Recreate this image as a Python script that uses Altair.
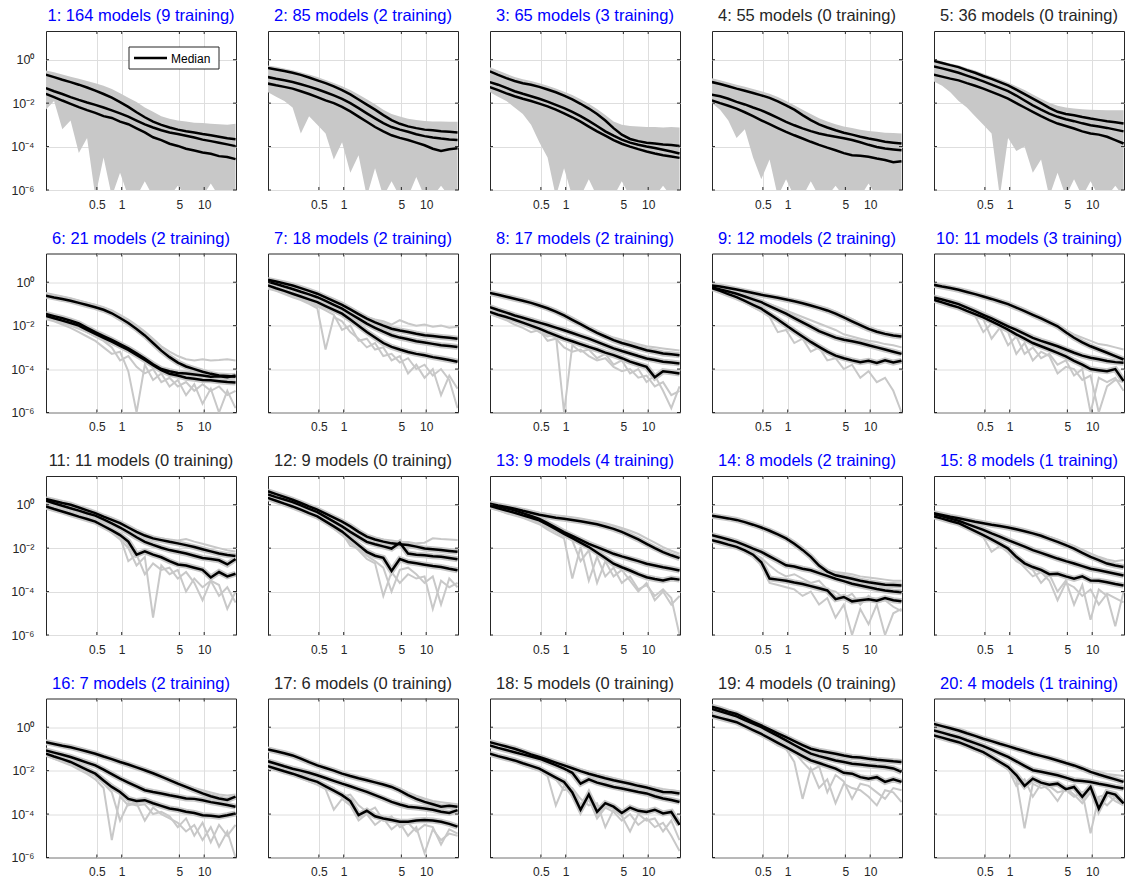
import altair as alt
import pandas as pd

FONT = "Liberation Sans"
AXC = "#262626"
GRAY = "#c8c8c8"
GRID = "#dedede"
W, H = 190, 159

# sample positions (log10 of x)
X_LOG = [-0.92, -0.82, -0.72, -0.62, -0.52, -0.42, -0.32, -0.22, -0.12, -0.02,
         0.08, 0.18, 0.28, 0.38, 0.48, 0.58, 0.68, 0.78, 0.88, 0.98, 1.08, 1.18, 1.28, 1.38]

TITLES = [
    "1: 164 models (9 training)", "2: 85 models (2 training)", "3: 65 models (3 training)",
    "4: 55 models (0 training)", "5: 36 models (0 training)", "6: 21 models (2 training)",
    "7: 18 models (2 training)", "8: 17 models (2 training)", "9: 12 models (2 training)",
    "10: 11 models (3 training)", "11: 11 models (0 training)", "12: 9 models (0 training)",
    "13: 9 models (4 training)", "14: 8 models (2 training)", "15: 8 models (1 training)",
    "16: 7 models (2 training)", "17: 6 models (0 training)", "18: 5 models (0 training)",
    "19: 4 models (0 training)", "20: 4 models (1 training)",
]
TITLE_BLUE = [1, 1, 1, 0, 0, 1, 1, 1, 1, 1, 0, 0, 1, 1, 1, 1, 0, 0, 0, 1]

X_TICKS = [0.5, 1, 5, 10]
Y_TICKS = [1e-6, 1e-4, 1e-2, 1]

# black percentile lines (log10 values), per panel: upper, median, lower
BLACK = {
 1: [[-0.69,-0.8,-0.92,-1.03,-1.15,-1.28,-1.42,-1.58,-1.75,-1.95,-2.17,-2.42,-2.65,-2.85,-3.0,-3.12,-3.22,-3.29,-3.35,-3.42,-3.48,-3.55,-3.62,-3.66],
     [-1.31,-1.45,-1.58,-1.72,-1.85,-1.97,-2.08,-2.2,-2.33,-2.47,-2.62,-2.8,-2.98,-3.12,-3.25,-3.35,-3.42,-3.5,-3.58,-3.68,-3.75,-3.82,-3.9,-3.98],
     [-1.57,-1.72,-1.88,-2.03,-2.18,-2.32,-2.45,-2.6,-2.68,-2.85,-2.97,-3.16,-3.35,-3.57,-3.7,-3.87,-3.97,-4.1,-4.18,-4.27,-4.33,-4.44,-4.48,-4.58]],
 2: [[-0.38,-0.45,-0.52,-0.6,-0.7,-0.82,-0.95,-1.08,-1.23,-1.4,-1.6,-1.83,-2.07,-2.3,-2.55,-2.78,-2.95,-3.07,-3.15,-3.22,-3.25,-3.29,-3.32,-3.35],
     [-0.8,-0.88,-0.95,-1.03,-1.13,-1.24,-1.36,-1.5,-1.64,-1.8,-2.0,-2.23,-2.47,-2.7,-2.92,-3.1,-3.22,-3.32,-3.43,-3.52,-3.58,-3.63,-3.67,-3.7],
     [-1.1,-1.18,-1.25,-1.33,-1.45,-1.58,-1.72,-1.87,-2.0,-2.17,-2.38,-2.62,-2.86,-3.1,-3.3,-3.48,-3.6,-3.7,-3.82,-3.94,-4.1,-4.2,-4.12,-4.08]],
 3: [[-0.54,-0.7,-0.85,-0.98,-1.08,-1.15,-1.25,-1.37,-1.5,-1.65,-1.83,-2.03,-2.25,-2.5,-2.8,-3.15,-3.45,-3.65,-3.75,-3.82,-3.86,-3.9,-3.93,-3.97],
     [-1.03,-1.15,-1.3,-1.45,-1.57,-1.68,-1.8,-1.93,-2.08,-2.23,-2.4,-2.6,-2.82,-3.05,-3.3,-3.5,-3.68,-3.82,-3.92,-4.0,-4.07,-4.15,-4.23,-4.32],
     [-1.26,-1.4,-1.55,-1.68,-1.8,-1.9,-2.02,-2.15,-2.3,-2.47,-2.65,-2.85,-3.08,-3.3,-3.5,-3.7,-3.87,-4.0,-4.12,-4.23,-4.32,-4.4,-4.46,-4.52]],
 4: [[-1.03,-1.12,-1.22,-1.33,-1.43,-1.53,-1.64,-1.76,-1.92,-2.1,-2.3,-2.55,-2.78,-2.98,-3.12,-3.25,-3.36,-3.45,-3.55,-3.63,-3.7,-3.78,-3.82,-3.86],
     [-1.61,-1.68,-1.8,-1.94,-2.06,-2.2,-2.33,-2.5,-2.68,-2.86,-3.02,-3.16,-3.29,-3.4,-3.48,-3.55,-3.62,-3.7,-3.8,-3.92,-4.02,-4.09,-4.13,-4.17],
     [-1.87,-2.0,-2.12,-2.25,-2.42,-2.6,-2.79,-2.97,-3.15,-3.32,-3.48,-3.63,-3.78,-3.92,-4.05,-4.17,-4.3,-4.4,-4.42,-4.47,-4.55,-4.62,-4.72,-4.68]],
 5: [[-0.06,-0.15,-0.25,-0.34,-0.48,-0.6,-0.75,-0.88,-1.03,-1.18,-1.38,-1.58,-1.79,-2.0,-2.22,-2.4,-2.5,-2.56,-2.64,-2.71,-2.77,-2.83,-2.88,-2.94],
     [-0.31,-0.4,-0.5,-0.6,-0.73,-0.86,-1.0,-1.15,-1.3,-1.45,-1.65,-1.88,-2.1,-2.3,-2.48,-2.63,-2.74,-2.83,-2.93,-3.02,-3.08,-3.14,-3.22,-3.3],
     [-0.69,-0.78,-0.87,-0.95,-1.08,-1.2,-1.33,-1.48,-1.63,-1.79,-2.0,-2.2,-2.4,-2.6,-2.78,-2.94,-3.05,-3.17,-3.3,-3.4,-3.45,-3.55,-3.7,-3.86]],
 6: [[-0.62,-0.7,-0.77,-0.85,-0.95,-1.05,-1.15,-1.27,-1.43,-1.65,-1.88,-2.15,-2.45,-2.8,-3.15,-3.45,-3.7,-3.88,-4.0,-4.12,-4.22,-4.3,-4.32,-4.35],
     [-1.46,-1.56,-1.66,-1.77,-1.9,-2.1,-2.3,-2.48,-2.66,-2.85,-3.05,-3.28,-3.52,-3.78,-4.0,-4.1,-4.18,-4.2,-4.25,-4.3,-4.35,-4.33,-4.38,-4.3],
     [-1.55,-1.66,-1.77,-1.88,-2.0,-2.2,-2.38,-2.56,-2.74,-2.93,-3.12,-3.35,-3.58,-3.82,-4.05,-4.22,-4.3,-4.4,-4.45,-4.5,-4.52,-4.56,-4.6,-4.62]],
 7: [[0.11,0.03,-0.06,-0.15,-0.27,-0.4,-0.53,-0.7,-0.87,-1.04,-1.25,-1.47,-1.68,-1.85,-2.0,-2.14,-2.22,-2.29,-2.37,-2.44,-2.48,-2.52,-2.56,-2.6],
     [0.03,-0.08,-0.2,-0.31,-0.44,-0.56,-0.69,-0.86,-1.04,-1.22,-1.45,-1.68,-1.91,-2.1,-2.28,-2.44,-2.55,-2.63,-2.72,-2.78,-2.84,-2.9,-2.94,-2.98],
     [-0.15,-0.28,-0.4,-0.53,-0.66,-0.79,-0.92,-1.1,-1.27,-1.45,-1.72,-2.0,-2.29,-2.55,-2.8,-2.98,-3.1,-3.21,-3.3,-3.36,-3.45,-3.51,-3.58,-3.66]],
 8: [[-0.49,-0.58,-0.67,-0.76,-0.85,-0.95,-1.07,-1.2,-1.35,-1.53,-1.73,-1.93,-2.14,-2.33,-2.5,-2.67,-2.8,-2.9,-3.02,-3.13,-3.2,-3.28,-3.32,-3.36],
     [-1.15,-1.28,-1.4,-1.53,-1.64,-1.75,-1.86,-1.97,-2.09,-2.21,-2.34,-2.47,-2.6,-2.75,-2.9,-3.05,-3.17,-3.28,-3.4,-3.51,-3.58,-3.66,-3.7,-3.74],
     [-1.37,-1.5,-1.6,-1.73,-1.86,-2.0,-2.14,-2.3,-2.45,-2.6,-2.72,-2.85,-2.98,-3.1,-3.24,-3.36,-3.5,-3.66,-3.78,-3.9,-4.38,-4.1,-4.15,-4.2]],
 9: [[-0.15,-0.2,-0.27,-0.34,-0.42,-0.5,-0.58,-0.65,-0.72,-0.8,-0.88,-0.97,-1.07,-1.18,-1.3,-1.45,-1.62,-1.8,-1.98,-2.15,-2.28,-2.38,-2.45,-2.5],
     [-0.23,-0.33,-0.43,-0.53,-0.66,-0.79,-0.92,-1.1,-1.27,-1.45,-1.65,-1.85,-2.05,-2.25,-2.4,-2.55,-2.65,-2.72,-2.8,-2.9,-3.0,-3.1,-3.2,-3.3],
     [-0.27,-0.4,-0.55,-0.69,-0.86,-1.04,-1.22,-1.47,-1.72,-1.98,-2.25,-2.5,-2.75,-2.98,-3.2,-3.38,-3.5,-3.6,-3.68,-3.62,-3.72,-3.6,-3.7,-3.62]],
 10: [[-0.12,-0.2,-0.27,-0.35,-0.45,-0.55,-0.66,-0.77,-0.89,-1.01,-1.17,-1.33,-1.5,-1.67,-1.85,-2.03,-2.3,-2.56,-2.77,-2.95,-3.1,-3.25,-3.4,-3.56],
      [-0.7,-0.8,-0.9,-1.01,-1.17,-1.33,-1.5,-1.67,-1.85,-2.03,-2.2,-2.38,-2.56,-2.7,-2.82,-2.95,-3.1,-3.25,-3.38,-3.48,-3.55,-3.63,-3.68,-3.71],
      [-0.81,-0.93,-1.05,-1.16,-1.32,-1.47,-1.62,-1.8,-1.99,-2.18,-2.4,-2.6,-2.8,-2.95,-3.1,-3.25,-3.42,-3.62,-3.8,-4.0,-4.05,-4.1,-4.0,-4.55]],
 11: [[0.26,0.17,0.08,0.0,-0.13,-0.26,-0.39,-0.55,-0.7,-0.85,-1.05,-1.25,-1.42,-1.55,-1.63,-1.71,-1.78,-1.86,-1.95,-2.05,-2.15,-2.25,-2.32,-2.36],
      [0.19,0.07,-0.05,-0.16,-0.27,-0.39,-0.5,-0.68,-0.86,-1.05,-1.27,-1.5,-1.71,-1.85,-1.98,-2.09,-2.17,-2.25,-2.35,-2.45,-2.5,-2.56,-2.75,-2.5],
      [-0.08,-0.2,-0.31,-0.43,-0.55,-0.66,-0.78,-0.98,-1.18,-1.4,-1.7,-2.3,-2.15,-2.3,-2.42,-2.6,-2.75,-2.8,-2.9,-3.0,-3.35,-3.1,-3.3,-3.18]],
 12: [[0.62,0.49,0.36,0.23,0.08,-0.08,-0.23,-0.41,-0.6,-0.78,-1.0,-1.25,-1.47,-1.6,-1.7,-1.78,-1.82,-1.86,-1.93,-2.02,-2.05,-2.09,-2.13,-2.17],
      [0.47,0.35,0.24,0.12,-0.03,-0.19,-0.34,-0.56,-0.78,-1.0,-1.25,-1.48,-1.71,-1.82,-1.92,-2.02,-1.75,-2.25,-2.3,-2.33,-2.37,-2.4,-2.45,-2.51],
      [0.31,0.18,0.05,-0.08,-0.23,-0.39,-0.54,-0.77,-1.0,-1.24,-1.55,-1.86,-2.17,-2.35,-2.45,-3.05,-2.5,-2.64,-2.7,-2.76,-2.82,-2.87,-2.95,-3.02]],
 13: [[0.05,-0.03,-0.1,-0.18,-0.28,-0.37,-0.46,-0.53,-0.6,-0.65,-0.7,-0.76,-0.83,-0.9,-1.0,-1.11,-1.25,-1.42,-1.6,-1.8,-2.0,-2.18,-2.33,-2.46],
      [0.0,-0.08,-0.17,-0.26,-0.39,-0.52,-0.65,-0.85,-1.05,-1.26,-1.44,-1.62,-1.8,-1.95,-2.1,-2.26,-2.38,-2.49,-2.6,-2.72,-2.8,-2.88,-2.95,-3.03],
      [-0.06,-0.17,-0.27,-0.37,-0.49,-0.6,-0.72,-0.92,-1.13,-1.34,-1.54,-1.75,-1.95,-2.2,-2.45,-2.72,-2.88,-3.03,-3.2,-3.34,-3.42,-3.49,-3.4,-3.45]],
 14: [[-0.51,-0.57,-0.63,-0.7,-0.8,-0.92,-1.05,-1.2,-1.37,-1.55,-1.8,-2.08,-2.4,-2.8,-3.08,-3.25,-3.33,-3.41,-3.5,-3.57,-3.63,-3.69,-3.7,-3.72],
      [-1.4,-1.5,-1.6,-1.71,-1.86,-2.02,-2.17,-2.38,-2.58,-2.79,-2.85,-2.95,-3.02,-3.15,-3.28,-3.41,-3.52,-3.64,-3.72,-3.8,-3.88,-3.95,-4.0,-4.03],
      [-1.63,-1.73,-1.84,-1.94,-2.1,-2.3,-2.65,-3.4,-3.45,-3.5,-3.58,-3.65,-3.75,-3.85,-3.95,-4.35,-4.25,-4.45,-4.4,-4.35,-4.42,-4.3,-4.4,-4.45]],
 15: [[-0.39,-0.47,-0.55,-0.62,-0.7,-0.78,-0.85,-0.92,-0.98,-1.05,-1.13,-1.22,-1.32,-1.43,-1.57,-1.71,-1.86,-2.02,-2.22,-2.4,-2.55,-2.71,-2.8,-2.87],
      [-0.43,-0.53,-0.64,-0.74,-0.88,-1.02,-1.16,-1.32,-1.47,-1.63,-1.78,-1.93,-2.09,-2.22,-2.35,-2.48,-2.6,-2.71,-2.83,-2.95,-3.02,-3.1,-3.18,-3.26],
      [-0.54,-0.64,-0.75,-0.85,-1.03,-1.22,-1.4,-1.6,-1.8,-2.02,-2.4,-2.7,-2.87,-3.0,-3.2,-3.18,-3.3,-3.41,-3.3,-3.49,-3.5,-3.57,-3.65,-3.72]],
 16: [[-0.69,-0.77,-0.85,-0.92,-1.02,-1.12,-1.22,-1.35,-1.47,-1.6,-1.72,-1.85,-1.98,-2.12,-2.28,-2.44,-2.6,-2.75,-2.9,-3.05,-3.18,-3.28,-3.35,-3.2],
      [-1.07,-1.17,-1.27,-1.37,-1.5,-1.63,-1.76,-1.95,-2.16,-2.37,-2.55,-2.72,-2.9,-2.98,-3.05,-3.13,-3.2,-3.28,-3.3,-3.36,-3.45,-3.51,-3.58,-3.66],
      [-1.22,-1.35,-1.47,-1.6,-1.78,-1.96,-2.14,-2.45,-2.75,-2.98,-3.3,-3.4,-3.36,-3.5,-3.62,-3.74,-3.8,-3.89,-3.95,-4.05,-4.08,-4.12,-4.05,-3.97]],
 17: [[-1.02,-1.11,-1.2,-1.3,-1.45,-1.61,-1.76,-1.88,-2.0,-2.14,-2.25,-2.35,-2.44,-2.54,-2.64,-2.75,-2.92,-3.13,-3.3,-3.44,-3.55,-3.66,-3.62,-3.66],
      [-1.57,-1.68,-1.8,-1.91,-2.0,-2.1,-2.21,-2.34,-2.47,-2.6,-2.72,-2.85,-2.98,-3.13,-3.28,-3.44,-3.56,-3.66,-3.7,-3.74,-3.8,-3.89,-3.95,-3.82],
      [-1.79,-1.91,-2.03,-2.14,-2.27,-2.4,-2.52,-2.72,-2.92,-3.13,-3.4,-4.05,-3.85,-4.1,-4.2,-4.27,-4.35,-4.35,-4.3,-4.27,-4.3,-4.35,-4.45,-4.58]],
 18: [[-0.69,-0.79,-0.89,-0.99,-1.12,-1.25,-1.37,-1.5,-1.63,-1.76,-1.89,-2.02,-2.14,-2.25,-2.35,-2.44,-2.52,-2.6,-2.7,-2.78,-2.88,-2.98,-3.0,-3.05],
      [-0.84,-0.95,-1.05,-1.15,-1.25,-1.35,-1.45,-1.6,-1.75,-1.91,-2.1,-2.6,-2.4,-2.55,-2.65,-2.75,-2.82,-2.9,-2.98,-3.05,-3.18,-3.28,-3.35,-3.44],
      [-1.22,-1.33,-1.43,-1.53,-1.66,-1.78,-1.91,-2.11,-2.32,-2.52,-3.0,-3.8,-3.1,-3.9,-3.5,-3.66,-3.95,-3.7,-3.85,-3.9,-3.8,-3.97,-3.9,-4.5]],
 19: [[0.95,0.84,0.72,0.61,0.43,0.25,0.08,-0.1,-0.28,-0.46,-0.64,-0.82,-0.99,-1.08,-1.15,-1.22,-1.3,-1.37,-1.4,-1.45,-1.5,-1.53,-1.57,-1.6],
      [0.84,0.73,0.62,0.5,0.33,0.17,0.0,-0.2,-0.4,-0.61,-0.82,-1.02,-1.22,-1.33,-1.43,-1.53,-1.6,-1.68,-1.72,-1.76,-1.8,-1.83,-1.9,-2.06],
      [0.53,0.43,0.33,0.23,0.05,-0.13,-0.31,-0.51,-0.72,-0.92,-1.12,-1.33,-1.53,-1.65,-1.78,-1.91,-2.1,-2.14,-2.3,-2.37,-2.3,-2.52,-2.4,-2.52]],
 20: [[0.15,0.05,-0.05,-0.15,-0.28,-0.4,-0.53,-0.64,-0.76,-0.87,-0.99,-1.1,-1.22,-1.32,-1.42,-1.53,-1.65,-1.76,-1.9,-2.06,-2.18,-2.29,-2.4,-2.52],
      [-0.15,-0.25,-0.36,-0.46,-0.6,-0.73,-0.87,-1.03,-1.2,-1.37,-1.57,-1.78,-1.98,-2.05,-2.13,-2.21,-2.32,-2.44,-2.48,-2.52,-2.6,-2.67,-2.75,-2.82],
      [-0.38,-0.48,-0.59,-0.69,-0.84,-1.0,-1.15,-1.37,-1.6,-1.83,-2.2,-2.7,-2.37,-2.55,-2.65,-2.6,-2.85,-2.75,-3.2,-2.75,-3.75,-3.0,-3.1,-3.51]],
}

# dense gray band (upper edge, lower edge) for the many-model panels
AREA = {
 1: ([-0.5,-0.58,-0.68,-0.78,-0.88,-0.98,-1.08,-1.2,-1.35,-1.55,-1.75,-1.95,-2.2,-2.4,-2.6,-2.72,-2.8,-2.85,-2.9,-2.92,-2.95,-2.97,-3.0,-2.95],
     [-2.3,-1.9,-3.2,-2.8,-4.3,-3.6,-6.3,-4.5,-6.3,-5.2,-6.3,-6.3,-5.6,-6.3,-6.3,-6.3,-5.8,-6.3,-6.3,-6.3,-5.7,-6.3,-6.3,-6.3]),
 2: ([-0.26,-0.32,-0.4,-0.48,-0.58,-0.68,-0.8,-0.93,-1.07,-1.22,-1.4,-1.6,-1.82,-2.05,-2.3,-2.5,-2.62,-2.72,-2.78,-2.82,-2.85,-2.85,-2.86,-2.86],
     [-1.5,-1.7,-1.9,-2.2,-3.4,-2.6,-3.0,-3.4,-4.6,-3.8,-5.2,-4.4,-6.3,-5.0,-6.3,-5.6,-6.3,-6.3,-5.4,-6.3,-6.3,-5.8,-6.3,-6.3]),
 3: ([-0.34,-0.5,-0.65,-0.8,-0.9,-0.98,-1.08,-1.2,-1.32,-1.47,-1.63,-1.82,-2.03,-2.27,-2.55,-2.85,-3.0,-3.05,-3.08,-3.1,-3.1,-3.12,-3.1,-3.12],
     [-1.5,-1.7,-1.9,-2.2,-2.5,-3.0,-3.8,-4.5,-6.3,-5.0,-6.3,-6.3,-5.5,-6.3,-6.3,-6.3,-5.6,-6.3,-6.3,-6.3,-6.3,-5.8,-6.3,-6.3]),
 4: ([-0.85,-0.95,-1.05,-1.15,-1.25,-1.35,-1.45,-1.57,-1.72,-1.9,-2.1,-2.3,-2.5,-2.7,-2.85,-2.97,-3.07,-3.15,-3.22,-3.28,-3.32,-3.36,-3.38,-3.4],
     [-2.0,-2.3,-2.8,-3.6,-3.2,-4.5,-5.5,-4.6,-6.3,-5.5,-6.3,-6.3,-5.6,-6.3,-6.3,-5.8,-6.3,-6.3,-6.3,-5.7,-6.3,-6.3,-6.3,-6.3]),
 5: ([0.0,-0.08,-0.17,-0.26,-0.38,-0.5,-0.63,-0.77,-0.9,-1.05,-1.22,-1.4,-1.6,-1.8,-1.98,-2.12,-2.2,-2.25,-2.28,-2.3,-2.32,-2.33,-2.33,-2.33],
     [-1.0,-1.2,-1.5,-1.9,-2.2,-2.6,-3.0,-3.4,-6.3,-3.6,-4.2,-4.0,-5.2,-4.6,-6.3,-5.2,-6.3,-5.5,-6.3,-5.6,-6.3,-6.3,-5.8,-6.3]),
}

# individual gray model lines for the sparser panels
GRAYL = {
 6: [[-0.5,-0.58,-0.66,-0.74,-0.84,-0.94,-1.04,-1.15,-1.3,-1.5,-1.72,-1.98,-2.27,-2.6,-2.95,-3.2,-3.4,-3.55,-3.6,-3.55,-3.6,-3.58,-3.55,-3.6],
     [-1.6,-1.72,-1.85,-2.0,-2.15,-2.3,-2.5,-2.7,-3.0,-3.6,-3.4,-3.9,-4.2,-4.0,-4.6,-4.4,-4.8,-4.6,-5.0,-4.7,-5.0,-4.8,-5.2,-5.0],
     [-1.7,-1.8,-1.95,-2.1,-2.3,-2.5,-2.7,-3.0,-3.3,-3.2,-4.1,-6.0,-3.8,-4.5,-4.2,-4.8,-4.5,-5.2,-4.7,-5.6,-4.9,-6.0,-5.0,-5.8]],
 7: [[0.15,0.07,-0.02,-0.1,-0.22,-0.35,-0.48,-0.63,-0.8,-0.98,-1.18,-1.38,-1.6,-1.72,-1.8,-1.95,-1.75,-1.9,-2.0,-1.95,-2.05,-2.0,-2.1,-2.05],
     [-0.3,-0.4,-0.55,-0.7,-0.82,-1.0,-1.2,-3.1,-1.6,-1.8,-2.3,-2.6,-3.0,-2.8,-3.4,-3.3,-3.7,-3.5,-4.0,-3.8,-4.3,-4.0,-4.5,-5.8],
     [-0.25,-0.35,-0.5,-0.62,-0.75,-0.9,-1.1,-1.3,-1.5,-2.2,-2.0,-2.7,-2.6,-3.1,-3.0,-3.6,-3.4,-4.2,-3.8,-4.4,-4.0,-5.2,-4.3,-4.9]],
 8: [[-0.45,-0.54,-0.63,-0.72,-0.81,-0.9,-1.02,-1.15,-1.3,-1.47,-1.66,-1.86,-2.06,-2.25,-2.4,-2.55,-2.65,-2.75,-2.85,-2.95,-3.0,-3.05,-3.1,-3.15],
     [-1.3,-1.45,-1.6,-1.75,-1.9,-2.05,-2.3,-2.5,-2.4,-6.0,-2.9,-3.2,-3.1,-3.5,-3.3,-3.8,-3.6,-4.2,-4.0,-4.6,-4.3,-5.0,-5.8,-4.8],
     [-1.45,-1.6,-1.75,-1.95,-2.1,-2.3,-2.2,-2.7,-2.6,-3.0,-3.2,-3.1,-3.4,-3.6,-3.5,-3.9,-4.1,-4.0,-4.4,-4.3,-4.8,-4.6,-5.2,-5.0]],
 9: [[-0.1,-0.15,-0.22,-0.29,-0.37,-0.45,-0.53,-0.6,-0.67,-0.74,-0.82,-0.9,-1.0,-1.1,-1.22,-1.36,-1.52,-1.7,-1.88,-2.05,-2.2,-2.3,-2.38,-2.42],
     [-0.3,-0.45,-0.6,-0.75,-0.95,-1.15,-1.35,-1.6,-2.3,-2.2,-2.8,-2.6,-3.2,-3.0,-3.6,-3.5,-4.0,-3.8,-4.4,-4.1,-4.6,-4.4,-5.0,-6.0],
     [-0.2,-0.3,-0.4,-0.5,-0.62,-0.75,-0.88,-1.0,-1.15,-1.3,-1.45,-1.6,-1.75,-1.9,-2.05,-2.2,-2.4,-2.5,-2.6,-2.7,-2.75,-2.85,-2.9,-3.0]],
 10: [[-0.08,-0.16,-0.23,-0.31,-0.41,-0.51,-0.62,-0.73,-0.85,-0.97,-1.12,-1.28,-1.45,-1.62,-1.8,-1.98,-2.2,-2.4,-2.55,-2.7,-2.85,-2.9,-3.0,-3.1],
      [-0.85,-0.98,-1.1,-1.22,-1.4,-1.55,-2.3,-1.9,-2.1,-2.9,-2.5,-3.3,-3.0,-3.5,-3.3,-3.8,-3.6,-4.3,-4.0,-6.0,-4.4,-4.6,-4.4,-5.0],
      [-0.8,-0.92,-1.05,-1.18,-1.32,-1.5,-1.7,-2.6,-2.1,-2.3,-3.3,-2.8,-3.6,-3.2,-3.4,-4.2,-3.9,-4.0,-4.5,-4.3,-6.0,-4.8,-4.5,-4.6]],
 11: [[0.3,0.21,0.12,0.04,-0.09,-0.22,-0.35,-0.5,-0.65,-0.8,-1.0,-1.2,-1.38,-1.5,-1.55,-1.6,-1.65,-1.58,-1.7,-1.8,-1.9,-2.0,-2.1,-2.15],
      [-0.12,-0.25,-0.36,-0.48,-0.6,-0.72,-0.85,-1.05,-1.3,-1.6,-2.0,-2.8,-2.4,-5.2,-2.8,-3.2,-3.0,-4.0,-3.4,-3.8,-3.5,-4.2,-3.8,-4.5],
      [-0.1,-0.22,-0.33,-0.45,-0.57,-0.69,-0.82,-1.0,-1.25,-1.5,-2.6,-2.3,-3.2,-2.7,-3.0,-2.9,-3.4,-3.1,-3.6,-4.4,-3.5,-3.7,-4.8,-4.0]],
 12: [[0.66,0.53,0.4,0.27,0.12,-0.04,-0.19,-0.37,-0.55,-0.72,-0.95,-1.2,-1.4,-1.52,-1.6,-1.65,-1.7,-1.72,-1.78,-1.75,-1.55,-1.58,-1.6,-1.62],
      [0.25,0.12,0.0,-0.14,-0.3,-0.45,-0.6,-0.85,-1.1,-1.4,-1.75,-2.1,-2.5,-2.7,-4.2,-3.1,-3.6,-3.2,-3.4,-3.3,-4.8,-3.5,-3.8,-3.6],
      [0.28,0.15,0.02,-0.11,-0.26,-0.42,-0.57,-0.8,-1.05,-1.3,-1.9,-2.0,-2.35,-2.6,-2.9,-4.0,-3.0,-2.9,-3.2,-3.6,-3.3,-4.6,-3.4,-3.8]],
 13: [[0.1,0.02,-0.06,-0.14,-0.22,-0.3,-0.37,-0.43,-0.48,-0.53,-0.58,-0.63,-0.7,-0.77,-0.85,-0.95,-1.07,-1.2,-1.35,-1.55,-1.75,-1.95,-2.12,-2.26],
      [-0.15,-0.25,-0.4,-0.5,-0.6,-0.75,-0.9,-1.15,-1.35,-1.55,-3.4,-1.95,-3.5,-2.4,-3.3,-2.9,-3.6,-3.3,-3.9,-3.7,-4.2,-3.9,-4.3,-6.0],
      [-0.1,-0.2,-0.32,-0.45,-0.55,-0.7,-0.85,-1.05,-1.25,-1.45,-1.65,-2.6,-2.1,-3.6,-2.6,-3.3,-3.0,-3.5,-4.0,-3.6,-4.4,-4.0,-4.6,-4.2]],
 14: [[-0.48,-0.54,-0.6,-0.67,-0.77,-0.89,-1.02,-1.17,-1.34,-1.52,-1.77,-2.05,-2.37,-2.75,-3.0,-3.1,-3.15,-3.2,-3.3,-3.35,-3.4,-3.45,-3.5,-3.5],
      [-1.7,-1.8,-1.9,-2.0,-2.2,-2.4,-2.8,-3.6,-3.7,-3.8,-3.9,-4.2,-4.0,-4.6,-4.3,-5.2,-4.6,-6.0,-4.8,-5.5,-4.6,-6.0,-5.0,-4.8],
      [-1.55,-1.65,-1.78,-1.9,-2.05,-2.25,-2.45,-2.8,-3.1,-3.3,-3.2,-3.4,-3.6,-3.5,-3.9,-4.0,-4.3,-4.1,-4.6,-4.2,-4.5,-4.4,-4.7,-4.9]],
 15: [[-0.35,-0.43,-0.5,-0.57,-0.65,-0.72,-0.8,-0.87,-0.93,-1.0,-1.07,-1.15,-1.24,-1.34,-1.47,-1.6,-1.75,-1.9,-2.07,-2.24,-2.4,-2.52,-2.6,-2.55],
      [-0.6,-0.7,-0.8,-0.92,-1.1,-1.3,-1.5,-2.17,-1.9,-2.2,-2.6,-2.8,-3.0,-3.6,-3.2,-4.0,-3.5,-4.6,-3.7,-5.3,-3.9,-4.2,-5.6,-4.0],
      [-0.55,-0.66,-0.78,-0.9,-1.05,-1.25,-1.45,-1.65,-1.85,-2.1,-2.5,-2.9,-3.3,-3.1,-3.5,-4.4,-3.6,-3.8,-4.2,-3.9,-4.6,-4.1,-4.3,-4.5]],
 16: [[-0.62,-0.7,-0.78,-0.86,-0.95,-1.05,-1.15,-1.27,-1.4,-1.52,-1.65,-1.78,-1.9,-2.04,-2.2,-2.35,-2.5,-2.65,-2.8,-2.9,-3.0,-3.1,-3.15,-3.1],
      [-1.3,-1.45,-1.6,-1.75,-1.95,-2.15,-2.4,-2.8,-5.2,-3.2,-3.6,-3.5,-4.3,-3.7,-4.0,-4.2,-4.4,-4.8,-4.5,-5.2,-4.6,-5.5,-4.8,-6.0],
      [-1.25,-1.4,-1.55,-1.7,-1.88,-2.05,-2.25,-2.6,-3.0,-4.3,-3.5,-3.6,-3.55,-4.0,-3.9,-4.1,-4.6,-4.2,-5.0,-4.4,-5.3,-4.5,-5.0,-4.5]],
 17: [[-0.95,-1.05,-1.15,-1.25,-1.4,-1.55,-1.7,-1.83,-1.95,-2.08,-2.18,-2.28,-2.37,-2.46,-2.56,-2.67,-2.82,-3.0,-3.15,-3.28,-3.4,-3.45,-3.5,-3.55],
      [-1.85,-1.97,-2.1,-2.2,-2.35,-2.5,-2.65,-2.85,-3.8,-3.3,-3.6,-4.3,-4.0,-4.5,-4.2,-4.7,-4.4,-5.0,-4.6,-5.8,-4.7,-5.2,-4.9,-5.0],
      [-1.75,-1.88,-2.0,-2.1,-2.22,-2.35,-2.5,-2.65,-2.8,-3.2,-3.1,-3.6,-3.9,-3.7,-4.3,-4.1,-4.6,-4.4,-4.8,-4.5,-4.6,-5.4,-4.7,-4.9]],
 18: [[-0.6,-0.72,-0.82,-0.93,-1.05,-1.18,-1.3,-1.43,-1.56,-1.68,-1.8,-1.93,-2.05,-2.15,-2.25,-2.35,-2.45,-2.52,-2.6,-2.68,-2.78,-2.85,-2.9,-2.95],
      [-1.3,-1.4,-1.5,-1.6,-1.75,-1.88,-2.0,-2.25,-3.6,-2.7,-3.2,-3.9,-3.3,-4.2,-3.7,-3.9,-4.3,-4.0,-4.5,-4.2,-4.6,-4.4,-5.0,-5.7],
      [-1.25,-1.36,-1.47,-1.57,-1.7,-1.83,-1.96,-2.17,-2.4,-2.9,-2.8,-3.3,-3.6,-3.5,-4.6,-3.8,-4.1,-4.8,-4.0,-4.3,-4.2,-4.8,-4.3,-5.2]],
 19: [[1.0,0.88,0.76,0.64,0.47,0.29,0.12,-0.06,-0.24,-0.42,-0.6,-0.76,-0.92,-1.02,-1.1,-1.17,-1.24,-1.3,-1.35,-1.4,-1.43,-1.47,-1.5,-1.52],
      [0.5,0.4,0.3,0.2,0.0,-0.2,-0.4,-0.6,-0.85,-1.0,-1.6,-3.3,-1.9,-2.8,-2.4,-3.5,-2.6,-2.8,-2.9,-3.2,-3.6,-2.9,-3.0,-3.45],
      [0.55,0.45,0.35,0.25,0.08,-0.1,-0.28,-0.48,-0.7,-0.9,-1.15,-1.6,-2.0,-1.8,-3.0,-2.2,-2.5,-3.3,-2.6,-2.7,-3.0,-3.3,-2.8,-2.9]],
 20: [[0.18,0.08,-0.02,-0.12,-0.25,-0.37,-0.5,-0.6,-0.72,-0.83,-0.95,-1.06,-1.18,-1.28,-1.38,-1.48,-1.6,-1.7,-1.82,-1.95,-2.05,-2.15,-2.2,-2.25],
      [-0.42,-0.52,-0.63,-0.73,-0.9,-1.05,-1.25,-1.45,-1.7,-1.95,-2.4,-4.66,-2.6,-2.8,-2.7,-3.0,-2.9,-3.2,-3.0,-4.88,-3.2,-3.1,-3.4,-3.6],
      [-0.4,-0.5,-0.6,-0.7,-0.86,-1.02,-1.2,-1.4,-1.65,-1.9,-2.7,-2.4,-3.2,-2.6,-2.9,-3.4,-2.8,-3.1,-3.5,-3.0,-3.3,-3.6,-3.2,-3.5]],
}

# ---------------------------------------------------------------- tables
line_rows, area_rows = [], []
for p, lines in BLACK.items():
    for k, vals in enumerate(lines):
        for xl, v in zip(X_LOG, vals):
            line_rows.append({"p": p, "s": f"b{k}", "kind": "black", "x": 10 ** xl, "y": 10 ** v})
for p, lines in GRAYL.items():
    for k, vals in enumerate(lines):
        for xl, v in zip(X_LOG, vals):
            line_rows.append({"p": p, "s": f"g{k}", "kind": "gray", "x": 10 ** xl, "y": 10 ** v})
for p, (hi, lo) in AREA.items():
    for xl, a, b in zip(X_LOG, hi, lo):
        area_rows.append({"p": p, "x": 10 ** xl, "hi": 10 ** a, "lo": 10 ** b})
lines_df = pd.DataFrame(line_rows)
area_df = pd.DataFrame(area_rows)
xt_df = pd.DataFrame({"x": X_TICKS})
yt_df = pd.DataFrame({"y": Y_TICKS})
leg_df = pd.DataFrame({"label": ["Median"]})

XS = alt.Scale(type="log", domain=[0.1208, 24.3], nice=False)
YS = alt.Scale(type="log", domain=[1e-6, 21], nice=False)

Y_LABEL = ("datum.value > 0.5 ? '10\u2070' : datum.value > 0.005 ? '10\u207b\u00b2' : "
           "datum.value > 0.00005 ? '10\u207b\u2074' : '10\u207b\u2076'")


def x_axis():
    return alt.Axis(values=X_TICKS, format=".1~f", grid=True, gridColor=GRID, ticks=False,
                    domain=False, labelFont=FONT, labelFontSize=12, labelColor=AXC,
                    labelPadding=9, title=None, labelFlush=False)


def y_axis(show):
    return alt.Axis(values=Y_TICKS, grid=True, gridColor=GRID, ticks=False, domain=False,
                    labels=show, labelExpr=Y_LABEL, labelFont=FONT, labelFontSize=12.5,
                    labelColor=AXC, labelPadding=12, title=None)


def panel(p, col):
    X = alt.X("x:Q", scale=XS, axis=x_axis())
    Yax = y_axis(col == 0)
    layers = []
    if p in AREA:
        layers.append(alt.Chart(area_df).transform_filter(alt.datum.p == p)
                      .mark_area(color=GRAY, clip=True)
                      .encode(x=X, y=alt.Y("hi:Q", scale=YS, axis=Yax), y2="lo:Q"))
    if p in GRAYL:
        layers.append(alt.Chart(lines_df).transform_filter((alt.datum.p == p) & (alt.datum.kind == "gray"))
                      .mark_line(color=GRAY, strokeWidth=2, clip=True)
                      .encode(x=X, y=alt.Y("y:Q", scale=YS, axis=Yax), detail="s:N"))
        # gray halo of nearby model curves around each percentile line
        layers.append(alt.Chart(lines_df).transform_filter((alt.datum.p == p) & (alt.datum.kind == "black"))
                      .mark_line(color=GRAY, strokeWidth=6, clip=True)
                      .encode(x=X, y=alt.Y("y:Q", scale=YS, axis=Yax), detail="s:N"))
    layers.append(alt.Chart(lines_df).transform_filter((alt.datum.p == p) & (alt.datum.kind == "black"))
                  .mark_line(color="black", strokeWidth=2.5, clip=True)
                  .encode(x=X, y=alt.Y("y:Q", scale=YS, axis=Yax), detail="s:N"))
    # inward tick marks on all four sides
    layers.append(alt.Chart(yt_df).mark_rule(color=AXC, strokeWidth=1)
                  .encode(y=alt.Y("y:Q", scale=YS, axis=Yax), x=alt.value(0), x2=alt.value(3)))
    layers.append(alt.Chart(yt_df).mark_rule(color=AXC, strokeWidth=1)
                  .encode(y=alt.Y("y:Q", scale=YS, axis=Yax), x=alt.value(W - 3), x2=alt.value(W)))
    layers.append(alt.Chart(xt_df).mark_rule(color=AXC, strokeWidth=1)
                  .encode(x=X, y=alt.value(H - 3), y2=alt.value(H)))
    layers.append(alt.Chart(xt_df).mark_rule(color=AXC, strokeWidth=1)
                  .encode(x=X, y=alt.value(0), y2=alt.value(3)))
    if p == 1:
        layers.append(alt.Chart(leg_df).mark_rect(fill="white", stroke=AXC, strokeWidth=1)
                      .encode(x=alt.value(83), x2=alt.value(173), y=alt.value(16), y2=alt.value(38)))
        layers.append(alt.Chart(leg_df).mark_rule(color="black", strokeWidth=2.5)
                      .encode(x=alt.value(88), x2=alt.value(121), y=alt.value(27)))
        layers.append(alt.Chart(leg_df).mark_text(align="left", baseline="middle", font=FONT,
                                                  fontSize=12, color="black")
                      .encode(x=alt.value(125), y=alt.value(27.5), text="label:N"))
    color = "#0000ff" if TITLE_BLUE[p - 1] else "#262626"
    return alt.layer(*layers).properties(
        width=W, height=H,
        title=alt.TitleParams(TITLES[p - 1], color=color, font=FONT, fontSize=16.5,
                              fontWeight="normal", offset=6, anchor="middle"))


panels = [panel(i + 1, i % 5) for i in range(20)]

chart = (alt.concat(*panels, columns=5, spacing=alt.RowColnumber(row=63.5, column=32), bounds="flush")
         .properties(padding={"left": 10, "top": 7, "right": 2, "bottom": 2}, background="white")
         .configure_view(stroke=AXC, strokeWidth=1))

chart.save("out.html", embed_options={"renderer": "svg", "actions": False})
